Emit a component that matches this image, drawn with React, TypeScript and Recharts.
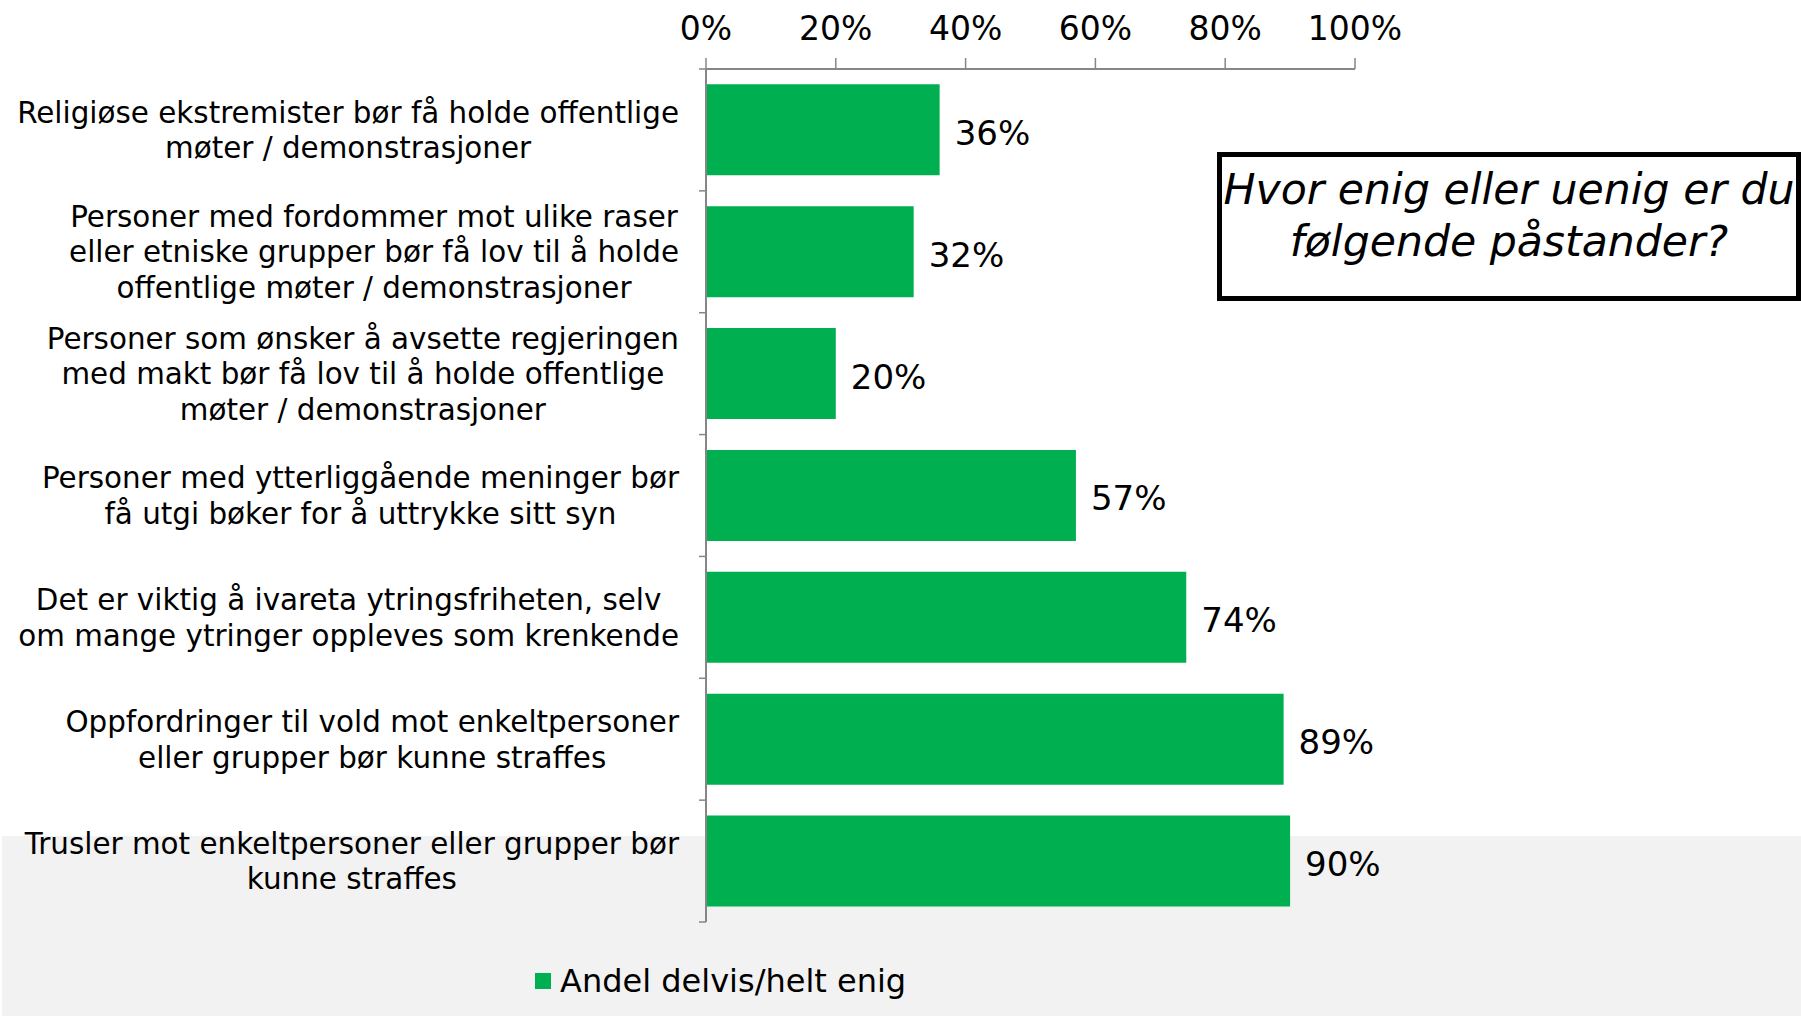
import { Bar, BarChart, LabelList, XAxis, YAxis } from "recharts";

const categories = [
  "Religiøse ekstremister bør få holde offentlige\nmøter / demonstrasjoner",
  "Personer med fordommer mot ulike raser\neller etniske grupper bør få lov til å holde\noffentlige møter / demonstrasjoner",
  "Personer som ønsker å avsette regjeringen\nmed makt bør få lov til å holde offentlige\nmøter / demonstrasjoner",
  "Personer med ytterliggående meninger bør\nfå utgi bøker for å uttrykke sitt syn",
  "Det er viktig å ivareta ytringsfriheten, selv\nom mange ytringer oppleves som krenkende",
  "Oppfordringer til vold mot enkeltpersoner\neller grupper bør kunne straffes",
  "Trusler mot enkeltpersoner eller grupper bør\nkunne straffes",
];

const agreeShare = [36, 32, 20, 57, 74, 89, 90];

const percentTicks = [0, 20, 40, 60, 80, 100];

const seriesName = "Andel delvis/helt enig";
const titleLines = ["Hvor enig eller uenig er du", "følgende påstander?"];

const data = categories.map((label, i) => ({ label, value: agreeShare[i] }));

const FONT = "'DejaVu Sans', Verdana, sans-serif";
const GREEN = "#00B050";
const AXIS_GRAY = "#868686";

const WIDTH = 1801;
const HEIGHT = 1018;
const PLOT_LEFT = 706;
const PLOT_RIGHT = 1355;
const PLOT_TOP = 69;
const PLOT_BOTTOM = 922;
const X_AXIS_HEIGHT = 60;
const BAND = (PLOT_BOTTOM - PLOT_TOP) / categories.length;
const LABEL_SIZE = 29.4;
const LINE_H = 35.6;
const LABEL_GAP = 27;

let measureCtx: CanvasRenderingContext2D | null = null;
function textWidth(text: string) {
  if (!measureCtx) measureCtx = document.createElement("canvas").getContext("2d");
  if (!measureCtx) return text.length * LABEL_SIZE * 0.55;
  measureCtx.font = `${LABEL_SIZE}px 'DejaVu Sans'`;
  return measureCtx.measureText(text).width;
}

function CategoryTick({ x = 0, y = 0, payload, index }: any) {
  const lines = String(payload?.value ?? "").split("\n");
  const widest = Math.max(...lines.map(textWidth));
  const cx = Number(x) - LABEL_GAP - widest / 2;
  const cy = Number(y);
  const y0 = cy - ((lines.length - 1) * LINE_H) / 2;
  const ax = Number(x);
  return (
    <g>
      <line x1={ax - 7} x2={ax} y1={cy - BAND / 2} y2={cy - BAND / 2} stroke={AXIS_GRAY} strokeWidth={1.5} />
      {index === categories.length - 1 && (
        <line x1={ax - 7} x2={ax} y1={cy + BAND / 2} y2={cy + BAND / 2} stroke={AXIS_GRAY} strokeWidth={1.5} />
      )}
      <text textAnchor="middle" fontSize={LABEL_SIZE} fontFamily={FONT} fill="#000">
        {lines.map((line, i) => (
          <tspan key={i} x={cx} y={y0 + i * LINE_H} dy="0.36em">
            {line}
          </tspan>
        ))}
      </text>
    </g>
  );
}

export default function App() {
  return (
    <div style={{ position: "absolute", left: 0, top: 0, width: WIDTH, height: HEIGHT, background: "#fff", overflow: "hidden" }}>
      <div style={{ position: "absolute", left: 2, top: 836, width: WIDTH - 2, height: 180, background: "#F2F2F2" }} />
      <div style={{ position: "absolute", left: 0, top: 0 }}>
        <BarChart
          width={WIDTH}
          height={HEIGHT}
          data={data}
          layout="vertical"
          barCategoryGap="12.6%"
          margin={{ top: PLOT_TOP - X_AXIS_HEIGHT, right: WIDTH - PLOT_RIGHT, bottom: HEIGHT - PLOT_BOTTOM, left: 0 }}
        >
          <XAxis
            type="number"
            orientation="top"
            domain={[0, 100]}
            ticks={percentTicks}
            height={X_AXIS_HEIGHT}
            tickFormatter={(v) => `${v}%`}
            tick={{ fontSize: 33, fontFamily: FONT, fill: "#000" }}
            tickSize={11}
            tickMargin={18}
            axisLine={{ stroke: AXIS_GRAY, strokeWidth: 2 }}
            tickLine={{ stroke: AXIS_GRAY, strokeWidth: 1.5 }}
          />
          <YAxis
            type="category"
            dataKey="label"
            width={PLOT_LEFT}
            tick={CategoryTick}
            tickSize={0}
            tickMargin={0}
            tickLine={false}
            interval={0}
            axisLine={{ stroke: AXIS_GRAY, strokeWidth: 2 }}
          />
          <Bar dataKey="value" name={seriesName} fill={GREEN} isAnimationActive={false}>
            <LabelList
              dataKey="value"
              position="right"
              offset={15}
              dy={3}
              formatter={(v: any) => `${v}%`}
              style={{ fontSize: 34, fontFamily: FONT, fill: "#000" }}
            />
          </Bar>
        </BarChart>
      </div>
      <div
        style={{
          position: "absolute",
          left: 535,
          top: 962,
          display: "flex",
          alignItems: "center",
          fontFamily: FONT,
          fontSize: 32,
          color: "#000",
        }}
      >
        <span style={{ display: "inline-block", width: 16, height: 16, background: GREEN, marginRight: 9 }} />
        <span>{seriesName}</span>
      </div>
      <div
        style={{
          position: "absolute",
          left: 1217,
          top: 152,
          width: 584,
          height: 149,
          boxSizing: "border-box",
          border: "5px solid #000",
          fontFamily: FONT,
          fontStyle: "italic",
          fontSize: 42.6,
          lineHeight: "52px",
          textAlign: "center",
          paddingTop: 6,
          whiteSpace: "nowrap",
          color: "#000",
        }}
      >
        {titleLines.map((line) => (
          <div key={line}>{line}</div>
        ))}
      </div>
    </div>
  );
}
